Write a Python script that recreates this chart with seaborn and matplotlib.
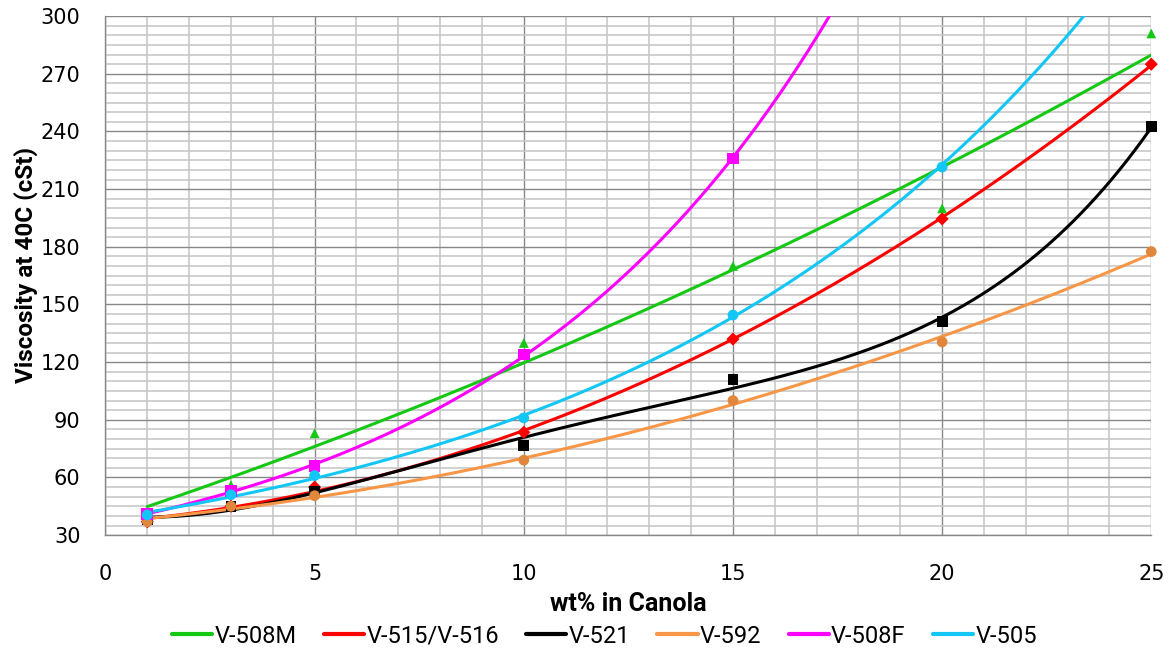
import numpy as np
import pandas as pd
import matplotlib
matplotlib.use("Agg")
import matplotlib.pyplot as plt
import seaborn as sns
from matplotlib.lines import Line2D
from matplotlib.ticker import MultipleLocator

# ---- data ----
x_all = [1, 3, 5, 10, 15, 20, 25]
v508m = [40, 56, 83, 130, 170, 200, 291]
v515 = [37, 45, 55, 83.5, 132, 194.5, 275]
v521 = [38, 45, 53, 76.5, 111, 141, 242.5]
v592 = [37, 45, 50.5, 69, 100, 130.5, 177.5]
x_508f = [1, 3, 5, 10, 15]
v508f = [41, 53, 66, 124, 226]
x_505 = [1, 3, 5, 10, 15, 20]
v505 = [40.5, 51, 61, 91, 144.5, 221.5]

names = ["V-508M", "V-515/V-516", "V-521", "V-592", "V-508F", "V-505"]
xs = [x_all, x_all, x_all, x_all, x_508f, x_505]
ys = [v508m, v515, v521, v592, v508f, v505]
fits = [("poly", 2), ("poly", 2), ("poly", 4), ("poly", 2), ("exp", 0), ("exp", 0)]

line_colors = ["#14C814", "#FF0000", "#000000", "#F79646", "#FF00FF", "#12C6F6"]
marker_colors = ["#14C814", "#FF0000", "#000000", "#E0873C", "#FF00FF", "#12C6F6"]
markers = ["^", "D", "s", "o", "s", "o"]
msizes = [50, 45, 60, 60, 70, 60]

sns.set_theme(style="white")
plt.rcParams["font.family"] = ["DejaVu Sans"]
plt.rcParams["text.color"] = "black"
plt.rcParams["axes.labelcolor"] = "black"

fig = plt.figure(figsize=(11.68, 6.51), dpi=100)
ax = fig.add_axes([0.0903, 0.178, 0.8954, 0.7972])

# trend curves fitted to the data
grid = np.linspace(1, 25, 400)
for name, x, y, (kind, order), c in zip(names, xs, ys, fits, line_colors):
    x = np.asarray(x, float)
    y = np.asarray(y, float)
    if kind == "poly":
        coef = np.polyfit(x, y, order)
        fy = np.polyval(coef, grid)
    else:
        b, a = np.polyfit(x, np.log(y), 1)
        fy = np.exp(a) * np.exp(b * grid)
    df = pd.DataFrame({"x": grid, "y": fy})
    sns.lineplot(data=df, x="x", y="y", color=c, linewidth=2.2, ax=ax,
                 zorder=3, sort=False, estimator=None)

# data markers
for name, x, y, m, mc, s in zip(names, xs, ys, markers, marker_colors, msizes):
    df = pd.DataFrame({"x": x, "y": y})
    sns.scatterplot(data=df, x="x", y="y", marker=m, color=mc, s=s,
                    edgecolor="none", ax=ax, zorder=4, clip_on=False)

ax.set_xlim(0, 25)
ax.set_ylim(30, 300)
ax.xaxis.set_major_locator(MultipleLocator(5))
ax.xaxis.set_minor_locator(MultipleLocator(1))
ax.yaxis.set_major_locator(MultipleLocator(30))
ax.yaxis.set_minor_locator(MultipleLocator(5))
ax.grid(True, which="major", color="#888888", linewidth=1.0, zorder=0)
ax.grid(True, which="minor", color="#C4C4C4", linewidth=1.1, zorder=0)
ax.set_axisbelow(True)

for sp in ["top", "right"]:
    ax.spines[sp].set_visible(False)
for sp in ["left", "bottom"]:
    ax.spines[sp].set_color("#888888")
    ax.spines[sp].set_linewidth(1.0)

ax.tick_params(axis="both", which="major", direction="out", length=6,
               color="#888888", width=1, labelsize=15, labelcolor="#000000")
ax.tick_params(axis="both", which="minor", direction="out", length=4,
               color="#888888", width=1)
ax.tick_params(axis="x", which="major", pad=15)
ax.tick_params(axis="y", which="major", pad=12)

lab_font = ["Roboto", "DejaVu Sans"]
ax.set_xlabel("wt% in Canola", fontsize=18, fontweight="bold", family=lab_font)
ax.set_ylabel("Viscosity at 40C (cSt)", fontsize=17.5, fontweight="bold", family=lab_font)
ax.xaxis.set_label_coords(0.5, -0.133)
ax.xaxis.label.set_va("center")
ax.yaxis.set_label_coords(-0.076, 0.52)
ax.yaxis.label.set_va("center")

handles = [Line2D([0], [0], color=c, linewidth=3) for c in line_colors]
fig.legend(handles, names, loc="center", bbox_to_anchor=(0.5176, 0.023),
           ncol=6, frameon=False, handlelength=1.7,
           handletextpad=0.1, columnspacing=1.15,
           prop={"family": lab_font, "size": 17})

fig.savefig("out.png", dpi=100)
